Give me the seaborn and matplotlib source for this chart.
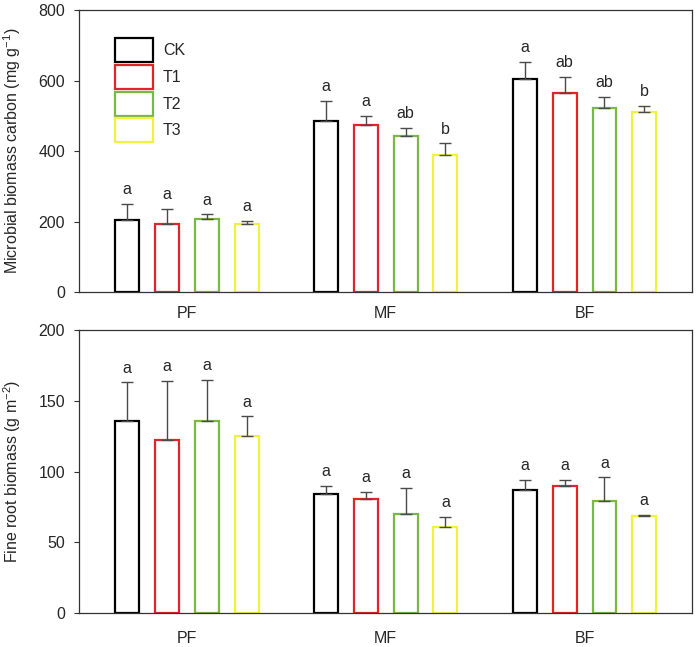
import pandas as pd
import matplotlib.pyplot as plt
import seaborn as sns
from matplotlib.patches import Patch

# forest types and treatments
forests = ['PF', 'MF', 'BF']
treatments = ['CK', 'T1', 'T2', 'T3']
colors = ['#000000', '#e0242c', '#78b843', '#f2f23c']

# microbial biomass carbon (mg g-1), mean and SE for each treatment
mbc_ck = [205, 486, 605]
mbc_t1 = [194, 474, 566]
mbc_t2 = [206, 443, 523]
mbc_t3 = [193, 390, 510]
mbc_ck_se = [45, 56, 47]
mbc_t1_se = [42, 25, 45]
mbc_t2_se = [14, 23, 30]
mbc_t3_se = [8, 32, 19]
mbc_ck_lab = ['a', 'a', 'a']
mbc_t1_lab = ['a', 'a', 'ab']
mbc_t2_lab = ['a', 'ab', 'ab']
mbc_t3_lab = ['a', 'b', 'b']

# fine root biomass (g m-2)
frb_ck = [136, 84, 87]
frb_t1 = [122, 81, 90]
frb_t2 = [136, 70, 79]
frb_t3 = [125.5, 61, 68.5]
frb_ck_se = [27, 6, 7]
frb_t1_se = [42, 4.5, 4]
frb_t2_se = [29, 18.6, 17]
frb_t3_se = [13.5, 7, 1.2]
frb_ck_lab = ['a', 'a', 'a']
frb_t1_lab = ['a', 'a', 'a']
frb_t2_lab = ['a', 'a', 'a']
frb_t3_lab = ['a', 'a', 'a']

sns.set_style('ticks')
plt.rcParams['font.family'] = ['Liberation Sans', 'DejaVu Sans']
plt.rcParams['mathtext.default'] = 'regular'
plt.rcParams['font.size'] = 11.5


def make_df(means, ses, labs):
    rows = []
    for t, m, s, l in zip(treatments, means, ses, labs):
        for f, v, e, lab in zip(forests, m, s, l):
            rows.append({'forest': f, 'treatment': t, 'value': v, 'se': e, 'label': lab})
    return pd.DataFrame(rows)


mbc_df = make_df([mbc_ck, mbc_t1, mbc_t2, mbc_t3],
                 [mbc_ck_se, mbc_t1_se, mbc_t2_se, mbc_t3_se],
                 [mbc_ck_lab, mbc_t1_lab, mbc_t2_lab, mbc_t3_lab])
frb_df = make_df([frb_ck, frb_t1, frb_t2, frb_t3],
                 [frb_ck_se, frb_t1_se, frb_t2_se, frb_t3_se],
                 [frb_ck_lab, frb_t1_lab, frb_t2_lab, frb_t3_lab])

fig = plt.figure(figsize=(6.97, 6.47), dpi=100)
ax1 = fig.add_axes([0.1133, 0.5487, 0.8795, 0.4358])
ax2 = fig.add_axes([0.1133, 0.0521, 0.8795, 0.4379])


def draw(ax, df, ymax, ystep, ylabel, xpad):
    sns.barplot(data=df, x='forest', y='value', hue='treatment', order=forests,
                hue_order=treatments, palette=colors, fill=False, linewidth=1.6,
                width=0.8, gap=0.4, errorbar=None, legend=False, ax=ax)
    for cont, t in zip(ax.containers, treatments):
        sub = df[df['treatment'] == t].set_index('forest').loc[forests]
        xs = [b.get_x() + b.get_width() / 2 for b in cont]
        hs = [b.get_height() for b in cont]
        ax.errorbar(xs, hs, yerr=[[0] * len(xs), sub['se'].values], fmt='none',
                    ecolor='#4a4a4a', elinewidth=1, capsize=4.3, capthick=1, zorder=1)
        for x, h, e, lab in zip(xs, hs, sub['se'].values, sub['label'].values):
            ax.annotate(lab, (x, h + e), xytext=(0, 7), textcoords='offset points',
                        ha='center', va='baseline', fontsize=11.5)
    ax.set_xlim(-0.543, 2.54)
    ax.set_ylim(0, ymax)
    ax.set_yticks(range(0, ymax + 1, ystep))
    ax.set_xlabel('')
    ax.set_ylabel(ylabel, fontsize=11.5)
    ax.yaxis.set_label_coords(-0.092, 0.5)
    ax.tick_params(axis='x', length=0, pad=xpad, labelsize=11.5)
    ax.tick_params(axis='y', length=3.6, width=0.8, pad=6.5, labelsize=11.5, color='#333333')
    for sp in ax.spines.values():
        sp.set_visible(True)
        sp.set_linewidth(0.9)
        sp.set_color('#333333')


draw(ax1, mbc_df, 800, 200, 'Microbial biomass carbon (mg g$^{-1}$)', 10)
draw(ax2, frb_df, 200, 50, 'Fine root biomass (g m$^{-2}$)', 13)

handles = [Patch(facecolor='white', edgecolor=c, linewidth=1.6) for c in colors]
ax1.legend(handles, treatments, loc='upper left', bbox_to_anchor=(0.059, 0.9),
           frameon=False, borderaxespad=0, borderpad=0, handlelength=2.4,
           handleheight=1.93, labelspacing=0.17, handletextpad=0.6, fontsize=11.5)

plt.savefig('out.png', dpi=100)
